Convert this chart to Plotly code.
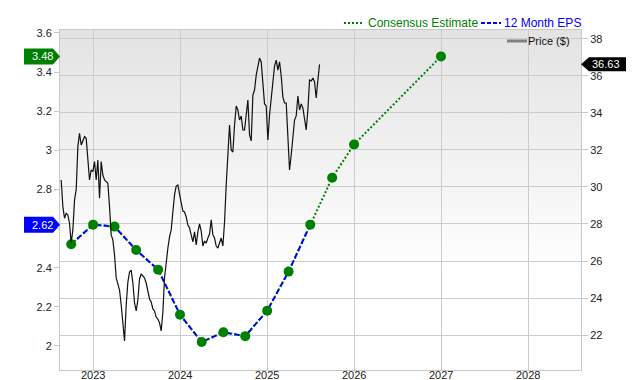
import base64
import pandas as pd
import plotly.graph_objects as go

# ---------------- data ----------------
eps_dates = ["2022-09-30", "2022-12-31", "2023-03-31", "2023-06-30", "2023-09-30",
             "2023-12-31", "2024-03-31", "2024-06-30", "2024-09-30", "2024-12-31",
             "2025-03-31", "2025-06-30"]
eps_values = [2.52, 2.62, 2.61, 2.49, 2.39, 2.16, 2.02, 2.07, 2.05, 2.18, 2.38, 2.62]

est_dates = ["2025-09-30", "2025-12-31", "2026-12-31"]
est_values = [2.86, 3.03, 3.48]

price_start = "2022-08-19"
price_values = [
    30.38, 28.94, 28.31, 28.58, 28.49, 28.04, 26.96, 27.68, 29.30, 29.84,
    32.18, 32.90, 32.27, 32.54, 32.72, 32.63, 31.64, 30.38, 30.92, 30.83,
    31.37, 30.38, 31.46, 29.39, 31.37, 30.65, 30.38, 30.29, 30.20, 28.94,
    27.41,
    27.14, 26.32, 25.08, 24.70, 24.43, 23.62, 22.54, 21.68, 23.62, 24.86,
    25.41, 25.51, 24.81, 23.73, 23.30, 23.89, 25.03, 25.30, 25.19, 25.08,
    24.81, 24.32, 23.95, 23.78, 23.41, 23.30, 22.97, 22.86, 22.65, 22.22,
    23.24, 25.08, 26.11, 26.70, 27.30, 27.68, 28.65, 29.57, 30.05, 30.11,
    29.62, 29.08, 28.70, 28.65, 28.38, 27.95, 27.78, 27.41, 27.03, 27.57,
    26.87, 27.57, 28.00, 27.62, 26.81, 27.08, 26.97, 27.24, 27.46, 28.22,
    27.41, 27.24, 26.81, 26.70, 26.92, 27.24, 26.81, 28.11, 30.11, 32.00,
    33.35, 32.00, 31.89, 33.35, 34.38, 34.16, 33.62, 33.84, 33.08, 33.08,
    33.78, 34.70, 32.81, 32.49, 34.97, 35.24, 36.05, 36.59, 36.97, 36.76,
    35.41, 34.49, 34.38, 32.54, 33.89, 34.92, 35.68, 36.54, 36.86, 36.32,
    36.76, 36.00, 34.86, 34.54, 34.54, 32.38, 30.92, 31.73, 32.81, 33.62,
    33.84, 34.92, 34.16, 34.49, 34.27, 33.62, 33.08, 34.16, 35.78, 35.73,
    35.89, 35.68, 34.81, 35.78, 36.63,
]

left_ticks = [2.0, 2.2, 2.4, 2.6, 2.8, 3.0, 3.2, 3.4, 3.6]
left_ticktext = ["2", "2.2", "2.4", "", "2.8", "3", "3.2", "3.4", "3.6"]
right_ticks = [22, 24, 26, 28, 30, 32, 34, 36, 38]
year_ticks = ["2023", "2024", "2025", "2026", "2027", "2028"]

legend_labels = ["Consensus Estimate", "12 Month EPS", "Price ($)"]

price_dates = pd.date_range(price_start, periods=len(price_values), freq="7D")
all_dates = eps_dates + est_dates
all_values = eps_values + est_values

GREEN = "#008000"
BLUE = "#0000ff"
FONT = "Liberation Sans, Arial, sans-serif"

# The page adds an 8px body margin, so the figure is sized to fill the rest of the window.
OFF = 8
W, H = 640 - OFF, 380 - OFF
L, T = 60 - OFF, 30 - OFF
R, B = W - (581 - OFF), H - (370 - OFF)
PW, PH = W - L - R, H - T - B


def px(xs):
    """screen x -> paper x"""
    return (xs - OFF - L) / PW


def py(ys):
    """screen y -> paper y"""
    return (H - B - (ys - OFF)) / PH


fig = go.Figure()

fig.add_trace(go.Scatter(x=price_dates, y=price_values, mode="lines",
                         line=dict(color="#111111", width=1.2),
                         yaxis="y2", showlegend=False, hoverinfo="skip"))
fig.add_trace(go.Scatter(x=all_dates, y=all_values, mode="lines",
                         line=dict(color=GREEN, width=2, dash="2px,2px"),
                         showlegend=False))
fig.add_trace(go.Scatter(x=eps_dates, y=eps_values, mode="lines",
                         line=dict(color=BLUE, width=2, dash="5px,3px"),
                         showlegend=False))
fig.add_trace(go.Scatter(x=all_dates, y=all_values, mode="markers",
                         marker=dict(color=GREEN, size=10),
                         showlegend=False))

svg = ('<svg xmlns="http://www.w3.org/2000/svg" width="100" height="100" '
       'preserveAspectRatio="none"><defs><linearGradient id="g" x1="0" y1="0" x2="0" y2="1">'
       '<stop offset="0" stop-color="#e3e3e3"/><stop offset="0.72" stop-color="#ffffff"/>'
       '</linearGradient></defs><rect width="100" height="100" fill="url(#g)"/></svg>')
src = "data:image/svg+xml;base64," + base64.b64encode(svg.encode()).decode()

shapes = [
    dict(type="path", xref="paper", yref="y", xsizemode="pixel", ysizemode="pixel",
         xanchor=0, yanchor=est_values[-1],
         path="M -36,-8 L -7,-8 L 0,0 L -7,8 L -36,8 Z",
         fillcolor=GREEN, line=dict(width=0), layer="above"),
    dict(type="path", xref="paper", yref="y", xsizemode="pixel", ysizemode="pixel",
         xanchor=0, yanchor=eps_values[-1],
         path="M -36,-8 L -7,-8 L 0,0 L -7,8 L -36,8 Z",
         fillcolor=BLUE, line=dict(width=0), layer="above"),
    dict(type="path", xref="paper", yref="y2", xsizemode="pixel", ysizemode="pixel",
         xanchor=1, yanchor=price_values[-1],
         path="M 0,0 L 8,-7 L 45,-7 L 45,7 L 8,7 Z",
         fillcolor="#000000", line=dict(width=0), layer="above"),
    # custom legend symbols
    dict(type="line", xref="paper", yref="paper", x0=px(344), x1=px(362), y0=py(23), y1=py(23),
         line=dict(color=GREEN, width=2, dash="2px,2px")),
    dict(type="line", xref="paper", yref="paper", x0=px(481), x1=px(501), y0=py(23), y1=py(23),
         line=dict(color=BLUE, width=2, dash="4px,2px")),
    dict(type="line", xref="paper", yref="paper", x0=px(507), x1=px(527), y0=py(41), y1=py(41),
         line=dict(color="#808080", width=3)),
]

annotations = [
    dict(xref="paper", yref="y", x=0, y=est_values[-1], xanchor="right", xshift=-5,
         text=f"{est_values[-1]:.2f}", showarrow=False,
         font=dict(color="white", size=11, family=FONT)),
    dict(xref="paper", yref="y", x=0, y=eps_values[-1], xanchor="right", xshift=-5,
         text=f"{eps_values[-1]:.2f}", showarrow=False,
         font=dict(color="white", size=11, family=FONT)),
    dict(xref="paper", yref="y2", x=1, y=price_values[-1], xanchor="left", xshift=9,
         text=f"{price_values[-1]:.2f}", showarrow=False,
         font=dict(color="white", size=11, family=FONT)),
    dict(xref="paper", yref="paper", x=px(479), y=py(23), xanchor="right", yanchor="middle",
         text=legend_labels[0], showarrow=False, borderpad=0,
         font=dict(color=GREEN, size=12, family=FONT)),
    dict(xref="paper", yref="paper", x=px(582), y=py(23), xanchor="right", yanchor="middle",
         text=legend_labels[1], showarrow=False, borderpad=0,
         font=dict(color=BLUE, size=12, family=FONT)),
    dict(xref="paper", yref="paper", x=px(571), y=py(41), xanchor="right", yanchor="middle",
         text=legend_labels[2], showarrow=False, borderpad=0,
         font=dict(color="#111111", size=11, family=FONT)),
]
# year labels just under the axis
for yr in year_ticks:
    annotations.append(dict(xref="x", yref="paper", x=f"{yr}-01-01", y=py(375),
                            xanchor="center", yanchor="middle", text=yr, showarrow=False,
                            borderpad=0, font=dict(color="#222222", size=11, family=FONT)))

fig.update_layout(
    width=W, height=H,
    margin=dict(l=L, r=R, t=T, b=B, autoexpand=False),
    paper_bgcolor="white",
    plot_bgcolor="rgba(0,0,0,0)",
    font=dict(family=FONT, size=11, color="#222222"),
    showlegend=False,
    images=[dict(source=src, xref="paper", yref="paper", x=0, y=1, sizex=1, sizey=1,
                 sizing="stretch", layer="below", xanchor="left", yanchor="top")],
    xaxis=dict(type="date", range=["2022-08-14", "2028-08-10"],
               tick0="2023-01-01", dtick="M12", showticklabels=False,
               showgrid=True, gridcolor="#cccccc", gridwidth=1,
               showline=True, linecolor="#c8c8c8", mirror=True, automargin=False,
               ticks="", zeroline=False),
    yaxis=dict(range=[1.877, 3.615], tickvals=left_ticks, ticktext=left_ticktext,
               showgrid=False, showline=True, linecolor="#c8c8c8", automargin=False,
               ticks="outside", ticklen=5, tickcolor="#c8c8c8", zeroline=False,
               tickfont=dict(size=11, color="#222222")),
    yaxis2=dict(range=[20.108, 38.486], tickvals=right_ticks, overlaying="y", side="right",
                showgrid=True, gridcolor="#cccccc", gridwidth=1, automargin=False,
                showline=True, linecolor="#c8c8c8",
                ticks="outside", ticklen=6, tickcolor="#c8c8c8", zeroline=False,
                tickfont=dict(size=11, color="#222222")),
    shapes=shapes,
    annotations=annotations,
    hovermode=False,
)

fig.write_html("out.html")
